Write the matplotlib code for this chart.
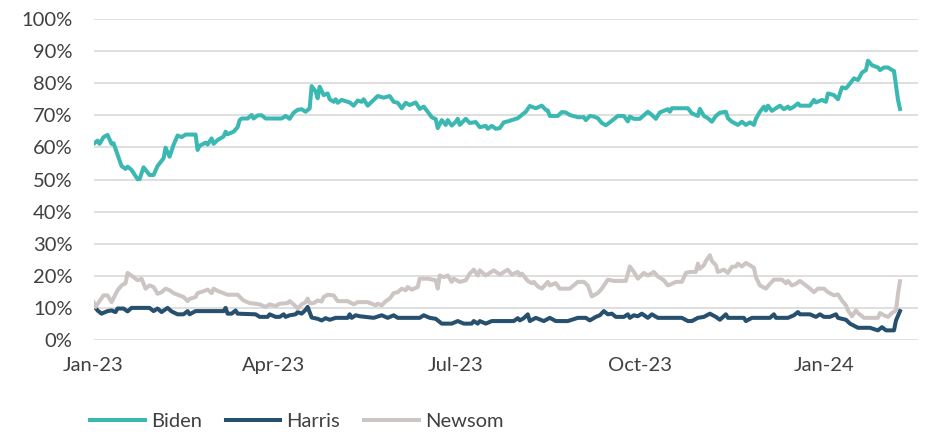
import pandas as pd
import matplotlib.pyplot as plt
import matplotlib.dates as mdates
from matplotlib.ticker import PercentFormatter

plt.rcParams['font.family'] = ['Lato', 'DejaVu Sans']

start = pd.Timestamp('2023-01-01')

# day offsets from 1 Jan 2023 and poll share (%)
biden_days = [0, 2, 3, 5, 7, 9, 10, 12, 14, 16, 17, 19, 22, 23, 25, 28, 30, 32, 35, 36, 38, 40,
              42, 44, 46, 51, 52, 53, 56, 57, 59, 60, 62, 65, 66, 67, 70, 72, 73, 74, 77, 79, 80,
              82, 84, 86, 94, 96, 98, 100, 102, 104, 106, 108, 109, 111, 112, 113, 115, 117, 118,
              120, 121, 122, 124, 127, 128, 130, 132, 134, 135, 137, 140, 142, 145, 148, 150, 152,
              154, 156, 158, 161, 163, 165, 167, 169, 171, 172, 174, 176, 177, 179, 181, 182, 183,
              186, 188, 191, 193, 196, 197, 199, 201, 203, 205, 207, 209, 212, 213, 216, 218, 221,
              224, 226, 227, 228, 232, 234, 236, 238, 241, 242, 245, 246, 248, 250, 252, 254, 256,
              258, 262, 265, 267, 268, 270, 273, 277, 279, 281, 283, 287, 288, 289, 297, 299, 302,
              303, 305, 307, 309, 311, 313, 316, 317, 319, 322, 324, 326, 328, 330, 331, 333, 335,
              336, 337, 339, 343, 345, 347, 348, 350, 352, 353, 358, 360, 361, 364, 366, 367, 370,
              372, 374, 376, 377, 380, 382, 384, 386, 387, 389, 392, 393, 395, 397, 399, 400, 402, 403]
biden_vals = [61.1, 62.1, 61.1, 63.2, 63.9, 61.1, 61.3, 57.7, 54.2, 53.3, 54.0, 53.0, 50.1, 50.1,
              53.8, 51.4, 51.4, 54.2, 56.6, 59.9, 57.1, 60.8, 63.7, 63.2, 64.0, 64.0, 59.2, 60.5,
              61.5, 60.9, 62.8, 61.1, 62.3, 63.4, 64.9, 64.1, 64.9, 66.3, 68.5, 69.0, 69.0, 70.1,
              69.0, 70.0, 70.0, 69.0, 69.0, 69.8, 68.9, 70.8, 71.7, 71.9, 71.1, 72.2, 79.1, 77.4,
              75.3, 78.9, 76.3, 76.8, 75.0, 74.2, 75.0, 73.9, 74.8, 74.2, 74.0, 73.0, 74.6, 74.2,
              75.0, 73.0, 74.8, 76.0, 75.5, 76.0, 74.2, 73.9, 72.2, 73.9, 73.2, 74.0, 72.0, 72.7,
              71.1, 69.4, 68.8, 66.0, 68.5, 67.0, 68.5, 66.8, 68.0, 68.9, 67.0, 68.9, 67.6, 67.9,
              66.3, 66.7, 65.8, 66.7, 65.8, 66.0, 67.8, 68.1, 68.5, 69.1, 69.6, 71.1, 72.9, 72.2,
              73.0, 71.7, 71.5, 69.8, 69.8, 71.0, 70.9, 70.1, 69.6, 69.4, 69.4, 68.5, 69.8, 69.6,
              69.1, 67.6, 66.9, 67.8, 69.8, 69.8, 68.1, 69.6, 68.9, 68.9, 71.1, 70.1, 68.9, 70.9,
              71.9, 71.1, 72.2, 72.2, 70.6, 69.8, 72.0, 69.8, 69.1, 68.0, 69.8, 70.8, 71.1, 69.1,
              68.0, 67.0, 68.0, 67.0, 67.8, 67.0, 68.9, 71.1, 72.7, 71.5, 73.0, 71.4, 73.0, 71.9,
              72.7, 72.0, 72.7, 73.7, 73.0, 73.0, 74.8, 74.0, 74.8, 74.2, 76.8, 76.3, 75.0, 78.7,
              78.4, 79.1, 81.5, 81.0, 83.3, 84.1, 87.0, 85.6, 84.9, 84.1, 84.9, 84.9, 84.1, 83.8,
              74.8, 72.0]

harris_days = [0, 2, 4, 7, 9, 11, 12, 15, 17, 19, 28, 30, 32, 34, 37, 39, 42, 45, 47, 48, 51, 65,
               66, 67, 69, 71, 72, 81, 83, 87, 88, 91, 93, 95, 96, 98, 101, 102, 104, 106, 107, 109,
               112, 114, 116, 118, 121, 127, 128, 129, 131, 133, 140, 144, 147, 150, 152, 163, 165,
               168, 171, 174, 179, 182, 185, 189, 190, 192, 193, 196, 199, 210, 212, 213, 215, 217,
               218, 221, 225, 228, 231, 237, 242, 246, 248, 251, 253, 255, 257, 259, 261, 265, 267,
               268, 270, 272, 274, 277, 279, 282, 285, 294, 297, 299, 302, 305, 308, 311, 313, 316,
               317, 325, 326, 329, 338, 340, 341, 347, 350, 352, 353, 358, 361, 363, 365, 368, 371,
               372, 376, 378, 382, 388, 392, 394, 396, 400, 401, 403]
harris_vals = [10.8, 9.2, 8.2, 9.0, 9.2, 8.7, 9.8, 9.8, 8.9, 10.0, 10.0, 9.0, 9.8, 8.7, 10.0, 8.9,
               8.0, 8.0, 9.0, 8.0, 9.0, 9.0, 10.0, 8.2, 8.2, 9.2, 8.2, 8.0, 7.2, 7.2, 8.0, 7.2, 7.2,
               8.0, 7.2, 7.7, 8.0, 8.7, 8.2, 9.4, 10.3, 7.0, 6.6, 6.1, 6.8, 6.3, 6.9, 6.9, 8.0, 6.9,
               7.7, 7.4, 6.9, 7.7, 6.9, 7.7, 6.9, 6.9, 7.7, 6.9, 6.6, 5.1, 5.1, 5.9, 5.1, 5.1, 5.9,
               5.1, 5.9, 5.1, 5.9, 5.9, 6.8, 6.1, 6.8, 8.0, 5.9, 6.9, 5.9, 6.9, 5.9, 5.9, 6.9, 6.9,
               6.1, 7.2, 7.7, 9.0, 8.0, 8.2, 7.2, 7.2, 8.0, 6.9, 7.7, 7.4, 8.2, 6.9, 8.0, 6.9, 6.9,
               6.9, 5.9, 5.9, 6.9, 7.2, 8.2, 7.2, 6.3, 8.0, 6.9, 6.9, 5.9, 6.9, 6.9, 8.0, 6.9, 6.9,
               7.7, 8.7, 8.0, 8.0, 7.2, 8.0, 7.2, 7.2, 8.0, 6.9, 6.3, 5.1, 3.8, 3.8, 3.0, 4.0, 3.0,
               3.0, 6.1, 9.0]

newsom_days = [0, 1, 3, 5, 7, 9, 12, 14, 16, 17, 20, 22, 24, 26, 28, 30, 32, 34, 36, 38, 40, 42,
               45, 47, 48, 51, 52, 55, 57, 59, 60, 62, 65, 67, 72, 75, 78, 81, 83, 86, 88, 91, 93,
               97, 98, 100, 102, 104, 106, 107, 108, 110, 112, 114, 115, 117, 120, 122, 127, 130,
               132, 135, 137, 141, 142, 144, 146, 148, 150, 152, 154, 156, 157, 159, 162, 163, 167,
               171, 172, 173, 175, 177, 179, 180, 183, 186, 188, 190, 192, 193, 196, 198, 200, 203,
               207, 209, 212, 213, 214, 217, 219, 220, 222, 224, 227, 228, 231, 233, 238, 242, 245,
               247, 249, 252, 254, 257, 260, 266, 268, 270, 272, 275, 277, 280, 282, 285, 287, 289,
               291, 294, 296, 298, 301, 302, 303, 305, 306, 308, 309, 311, 312, 315, 317, 319, 321,
               322, 324, 326, 328, 330, 331, 333, 336, 338, 340, 344, 346, 347, 349, 351, 353, 356,
               358, 360, 362, 365, 367, 370, 372, 374, 376, 377, 379, 381, 382, 385, 392, 393, 395,
               397, 399, 401, 402, 403]
newsom_vals = [11.8, 10.3, 12.1, 13.9, 13.9, 11.8, 15.5, 17.0, 17.7, 20.9, 19.6, 18.6, 19.1, 16.0,
               17.0, 16.5, 14.4, 14.9, 16.0, 15.5, 14.6, 14.1, 13.4, 12.1, 12.8, 13.4, 14.6, 15.2,
               15.7, 14.6, 16.0, 15.3, 14.6, 14.1, 14.1, 12.3, 11.5, 11.3, 11.1, 10.3, 11.1, 10.6,
               11.3, 11.5, 12.1, 11.1, 9.8, 11.1, 11.8, 12.9, 11.5, 11.5, 12.3, 12.0, 13.4, 14.1,
               13.9, 12.1, 12.1, 11.1, 11.8, 11.8, 11.8, 10.8, 11.3, 10.8, 12.1, 12.9, 14.6, 14.9,
               16.0, 15.5, 16.5, 15.7, 16.5, 19.1, 19.1, 18.6, 16.0, 20.1, 19.6, 20.1, 18.1, 19.1,
               18.1, 18.6, 20.7, 21.9, 20.1, 21.7, 20.1, 20.9, 21.7, 20.4, 21.9, 20.4, 21.2, 20.1,
               20.7, 18.4, 17.7, 18.1, 16.7, 16.0, 18.1, 17.0, 17.7, 16.0, 16.0, 18.1, 18.1, 17.0,
               13.6, 14.6, 16.0, 18.8, 18.4, 18.4, 22.9, 21.2, 19.1, 20.9, 20.1, 21.2, 19.8, 18.6,
               17.0, 17.5, 18.1, 18.1, 20.9, 21.2, 21.2, 23.8, 22.2, 23.3, 24.6, 26.4, 24.6, 23.3,
               21.2, 21.9, 20.9, 22.8, 22.9, 23.8, 22.9, 24.0, 23.3, 22.5, 19.6, 17.0, 16.0, 17.5,
               18.8, 18.8, 17.7, 18.4, 17.0, 17.5, 18.4, 17.0, 16.0, 14.9, 16.0, 16.0, 14.9, 13.9,
               14.2, 12.3, 10.8, 9.2, 7.4, 9.2, 8.4, 6.9, 6.9, 8.4, 7.7, 7.2, 8.4, 9.2, 14.4, 18.3]

series = [
    ('Biden', biden_days, biden_vals, '#3bb8b2'),
    ('Harris', harris_days, harris_vals, '#27506e'),
    ('Newsom', newsom_days, newsom_vals, '#cdc5c3'),
]

fig = plt.figure(figsize=(9.27, 4.33), dpi=100)
ax = fig.add_axes([0.1009, 0.2148, 0.8894, 0.7413])

for name, days, vals, col in series:
    dates = start + pd.to_timedelta(days, unit='D')
    ax.plot(dates, vals, color=col, lw=2.9, label=name, solid_joinstyle='round')

ax.set_ylim(0, 100)
ax.set_yticks(range(0, 101, 10))
ax.yaxis.set_major_formatter(PercentFormatter(decimals=0))
ax.set_xlim(start, pd.Timestamp('2024-02-17'))
ax.set_xticks(pd.to_datetime(['2023-01-01', '2023-04-01', '2023-07-01', '2023-10-01', '2024-01-01']))
ax.xaxis.set_major_formatter(mdates.DateFormatter('%b-%y'))

ax.grid(axis='y', color='#d9d9d9', lw=1.2)
ax.set_axisbelow(True)
for s in ax.spines.values():
    s.set_visible(False)
ax.tick_params(length=0, labelsize=14.5, colors='#404040')
ax.tick_params(axis='y', pad=15)
ax.tick_params(axis='x', pad=12)

leg = fig.legend(loc='center left', bbox_to_anchor=(0.078, 0.027), ncol=3, frameon=False,
                 handlelength=2.7, handletextpad=0.3, columnspacing=1.2,
                 prop={'size': 14.5})
for t in leg.get_texts():
    t.set_color('#404040')

fig.savefig('out.png', dpi=100)
